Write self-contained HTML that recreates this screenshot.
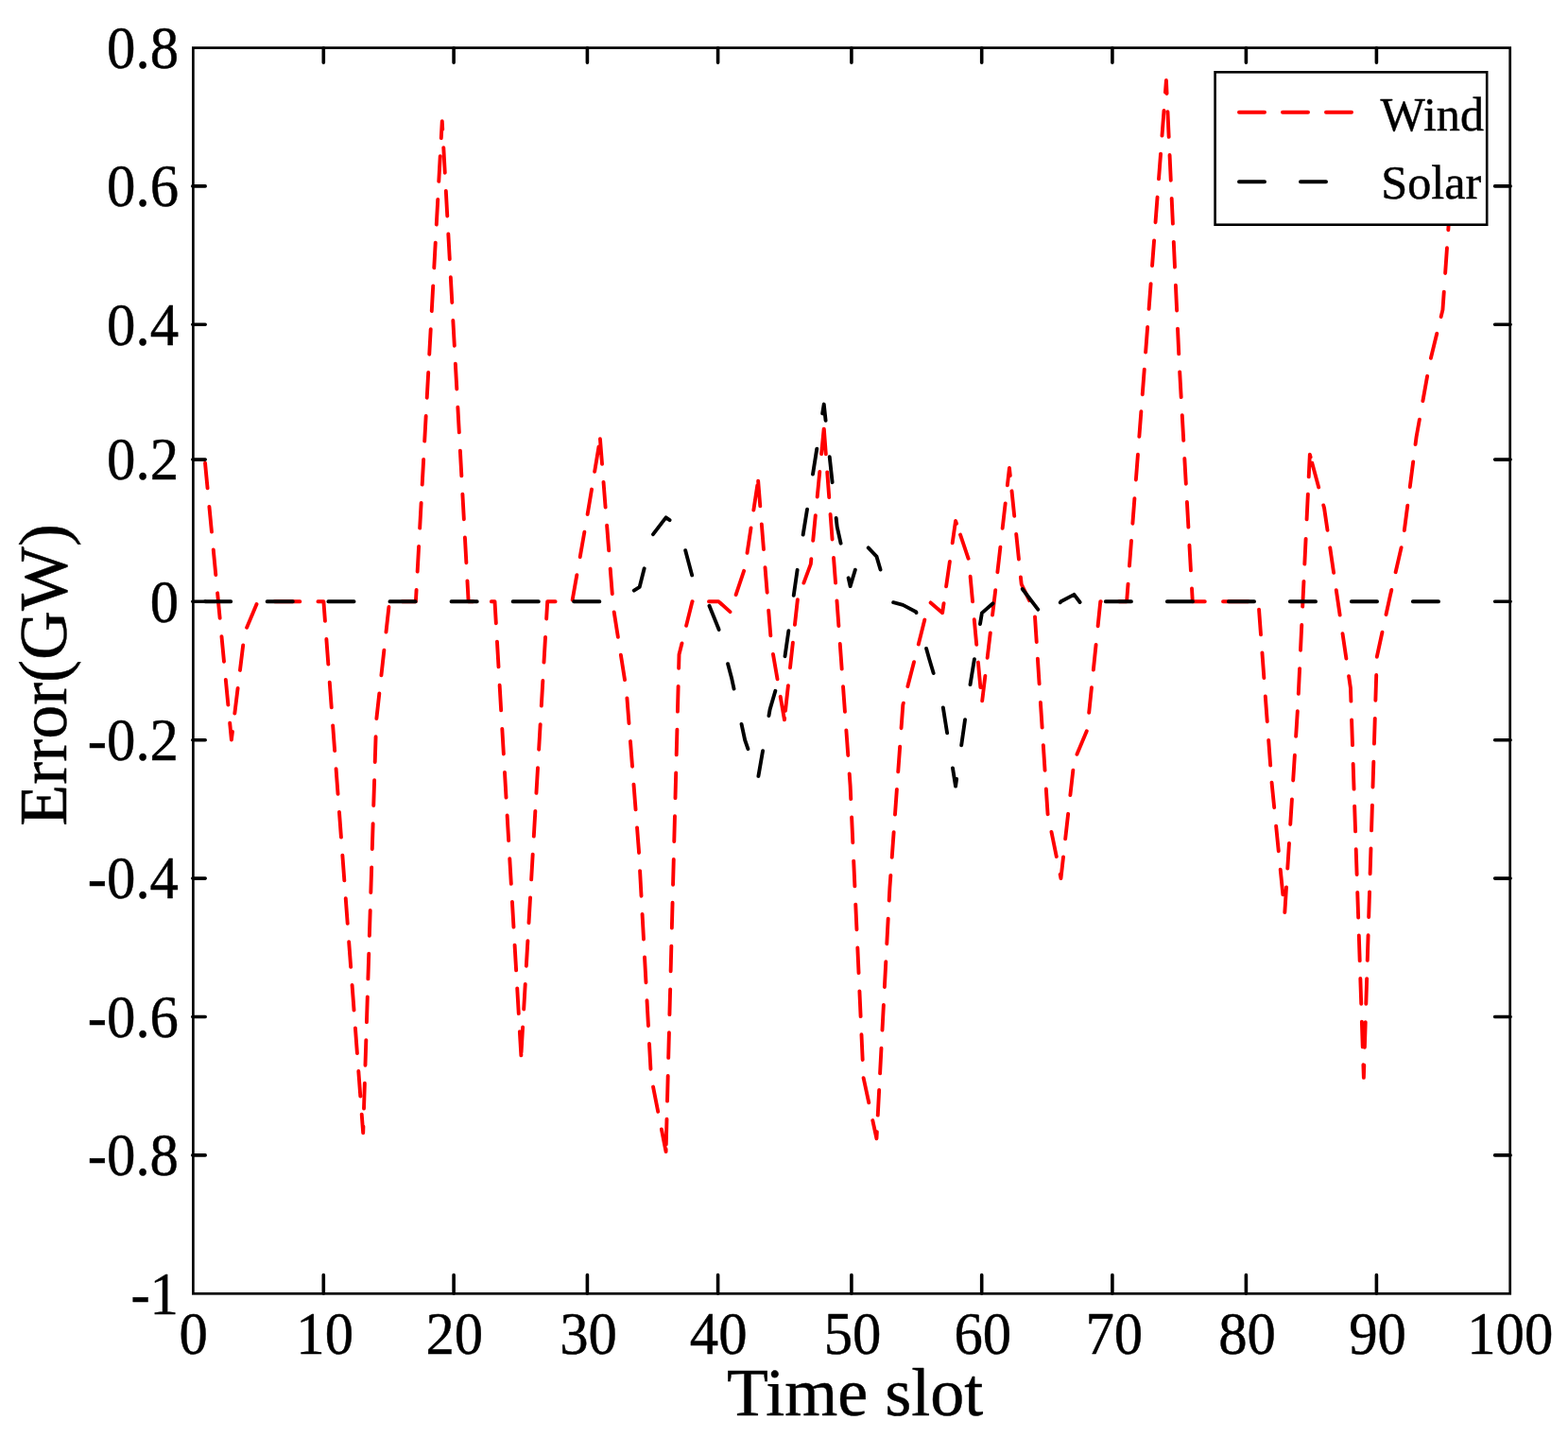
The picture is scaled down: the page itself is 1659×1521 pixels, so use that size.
<!DOCTYPE html>
<html lang="en">
<head>
<meta charset="utf-8">
<title>Error (GW) vs Time slot</title>
<style>
html,body{margin:0;padding:0;background:#fff;}
body{width:1659px;height:1521px;overflow:hidden;}
svg{display:block;}
text{font-family:"Liberation Serif","DejaVu Serif",serif;fill:#000;stroke:#000;stroke-width:0.45px;stroke-linejoin:round;}
.tick{font-size:62px;}
.lab{font-size:72px;}
.leg{font-size:51px;}
</style>
</head>
<body>
<svg width="1659" height="1521" viewBox="0 0 1659 1521" role="img" aria-label="Wind and solar forecast error (GW) per time slot">
<rect x="0" y="0" width="1659" height="1521" fill="#fff"/>
<g id="series">
<path d="M217.03 489.8L219.56 516.38M221.42 535.99L223.95 562.57M225.76 581.52L228.29 608.1M230.12 627.33L230.96 636.2L232.65 653.91M234.48 673.15L237 699.73M238.83 718.96L241.36 745.54M243.19 764.78L244.89 782.6L245.96 773.87M248.34 754.52L251.59 728.02M253.94 708.92L257.19 682.42M261.13 663.68L271.53 639.09M290.65 636.2L300.61 636.2L314.54 636.2L317.35 636.2M336.45 636.2L342.4 636.2L343.94 656.89M345.36 676L347.34 702.63M348.76 721.73L350.74 748.36M352.16 767.47L354.14 794.09M355.56 813.2L356.33 823.59L357.54 839.83M358.96 858.94L360.94 885.56M362.36 904.67L364.34 931.3M365.75 950.25L367.72 976.88M369.17 996.28L370.26 1010.98L371.15 1022.91M372.56 1041.86L374.53 1068.49M375.94 1087.45L377.92 1114.08M379.33 1133.04L381.31 1159.66M382.72 1178.62L384.19 1198.38L384.41 1191.49M385.02 1172.49L385.87 1145.8M386.48 1126.8L387.33 1100.11M387.94 1081.11L388.79 1054.42M389.4 1035.42L390.25 1008.74M390.86 989.73L391.71 963.05M392.32 944.05L393.17 917.36M393.79 897.97L394.64 871.28M395.26 851.97L396.11 825.28M396.73 805.97L397.58 779.28M398.39 759.98L401.32 733.44M403.44 714.23L406.37 687.69M408.49 668.49L411.42 641.95M425.59 636.2L425.98 636.2L439.91 636.2L440.59 623.84M441.65 604.54L443.11 577.88M444.17 558.59L445.63 531.93M446.69 512.63L448.15 485.97M449.21 466.67L450.67 440.01M451.73 420.72L453.19 394.06M454.25 374.76L455.71 348.1M456.76 329.02L458.22 302.36M459.26 283.28L460.73 256.62M461.77 237.53L463.24 210.87M464.28 191.79L465.74 165.13M466.79 146.04L467.77 128.19L468.25 137M469.3 156.08L470.76 182.74M471.81 201.83L473.27 228.49M474.32 247.57L475.78 274.23M476.83 293.32L478.29 319.98M479.33 339.06L480.8 365.72M481.84 384.82L483.31 411.48M484.36 430.74L485.82 457.4M486.88 476.67L488.34 503.33M489.4 522.6L490.86 549.26M491.92 568.53L493.38 595.19M494.44 614.46L495.63 636.2L500.55 636.2M519.85 636.2L523.49 636.2L524.83 659.22M525.95 678.66L527.5 705.31M528.63 724.75L530.17 751.4M531.3 770.84L532.85 797.49M533.98 816.93L535.52 843.59M536.62 862.52L537.42 876.3L538.17 889.17M539.27 908.24L540.82 934.9M541.93 953.96L543.47 980.62M544.58 999.69L546.13 1026.34M547.23 1045.41L548.78 1072.06M549.88 1091.13L551.35 1116.39L551.43 1115M551.53 1113.21L553.08 1086.55M554.19 1067.49L555.73 1040.83M556.84 1021.76L558.39 995.11M559.49 976.04L561.04 949.38M562.15 930.32L563.69 903.66M564.8 884.59L565.28 876.3L566.35 857.94M567.45 838.83L569 812.18M570.13 792.74L571.67 766.09M572.8 746.65L574.35 719.99M575.48 700.55L577.02 673.9M578.15 654.46L579.21 636.2L587.62 636.2M605.67 634.5L610.32 608.21M613.71 589.04L618.35 562.75M621.64 543.93L626.02 517.59M629.15 498.75L633.54 472.41M634.95 464.28L637.03 490.9M638.52 509.94L640.61 536.56M642.11 555.76L644.19 582.38M645.69 601.58L647.78 628.2M649.7 647.35L653.86 673.73M656.87 692.75L661.03 719.12M663.42 738.41L665.48 765.03M666.96 784.07L669.02 810.69M670.5 829.74L672.56 856.36M674.04 875.4L675.92 899.72L676.04 902.02M677.08 921.1L678.52 947.76M679.56 966.83L681 993.49M682.03 1012.56L683.48 1039.22M684.51 1058.29L685.96 1084.95M686.99 1104.03L688.43 1130.69M691.06 1149.56L696.22 1175.76M699.92 1194.5L704.58 1218.14L704.65 1215.54M704.78 1210.43L705.49 1183.74M706 1164.65L706.7 1137.96M707.21 1118.87L707.92 1092.18M708.42 1073.08L709.13 1046.39M709.64 1027.3L710.34 1000.61M710.85 981.52L711.56 954.82M712.06 935.73L712.77 909.04M713.27 889.95L713.98 863.26M714.49 844.16L715.19 817.47M715.7 798.38L716.41 771.69M716.91 752.6L717.62 725.9M718.13 706.77L718.51 692.34L721.46 680.44M726.07 661.87L732.44 636.2L732.7 636.2M749.98 636.2L760.3 636.2L772.49 647.14M778.6 629.1L787.1 603.79M790.53 584.89L794.5 558.49M797.35 539.58L801.33 513.18M802.15 508.78L804.29 535.4M805.83 554.44L807.97 581.05M809.51 600.09L811.66 626.7M813.19 645.74L815.34 672.35M817.95 691.93L822.5 718.24M825.71 736.81L829.95 761.37L830.14 759.6M831 751.75L833.9 725.21M835.98 706.25L838.88 679.71M840.95 660.75L843.86 634.21M850.37 616.61L857.81 596.67L858.33 591.28M860.22 571.78L862.79 545.21M864.7 525.56L867.27 498.99M869.09 480.19L871.66 453.62M871.81 453.76L873.81 480.38M875.24 499.43L877.24 526.05M878.57 543.88L880.57 570.5M882.04 590.03L884.04 616.65M885.45 635.49L885.67 638.4L887.39 662.12M888.75 680.95L890.68 707.58M892.03 726.26L893.95 752.89M895.36 772.34L897.29 798.97M898.7 818.41L899.6 830.91L900.24 845.07M901.12 864.54L902.32 891.22M903.2 910.69L904.4 937.37M905.27 956.59L906.47 983.26M907.34 1002.49L908.54 1029.16M909.41 1048.38L910.61 1075.06M911.48 1094.28L912.68 1120.95M913.61 1140.17L919.25 1166.27M923.32 1185.08L927.46 1204.23L927.83 1197.14M928.76 1179.59L930.16 1152.93M931.08 1135.38L932.48 1108.72M933.48 1089.67L934.88 1063.01M935.89 1043.96L937.29 1017.29M938.29 998.24L939.69 971.58M940.69 952.53L941.39 939.25L942.35 925.88M943.72 906.85L945.64 880.22M946.98 861.61L948.89 834.98M950.23 816.37L952.15 789.74M953.55 770.21L955.32 745.63L955.83 743.64M960.37 725.99L967.02 700.14M971.79 681.41L978.31 655.52M984.61 637.43L997.11 648.2L998.56 638.11M1001.1 620.34L1004.89 593.91M1007.7 574.27L1011.04 550.92L1012.04 553.87M1015.99 565.48L1024.58 590.76M1026.61 609.78L1029.05 636.37M1030.78 655.31L1033.22 681.89M1034.93 700.57L1037.37 727.16M1039.19 741.39L1042.36 714.87M1044.64 695.86L1047.81 669.35M1050.05 650.61L1052.83 627.42L1053.21 624.1M1055.37 605.17L1058.4 578.64M1060.65 558.9L1063.68 532.38M1065.86 513.32L1067.96 494.92L1068.8 503.07M1070.49 519.32L1073.23 545.88M1075.2 564.9L1077.95 591.46M1079.91 610.38L1080.69 617.9L1089.09 635.11M1095.01 652.44L1096.74 679.09M1097.88 696.64L1099.61 723.29M1100.89 742.94L1102.62 769.58M1103.83 788.21L1105.56 814.85M1106.84 834.52L1108.55 860.92L1108.6 861.16M1112.45 879.96L1117.8 906.12M1121.66 925.01L1122.48 929L1125.01 906.52M1127.16 887.36L1130.15 860.83M1132.36 841.14L1135.35 814.61M1139.47 797.84L1149.79 773.21M1152.2 753.75L1154.93 727.19M1156.85 708.51L1159.57 681.95M1161.6 662.22L1164.27 636.2L1164.81 636.2M1184 636.2L1192.13 636.2L1193.53 617.68M1194.98 598.54L1197 571.92M1198.38 553.74L1200.4 527.11M1201.89 507.44L1203.91 480.81M1205.34 461.91L1206.06 452.47L1207.36 435.28M1208.73 417.25L1210.75 390.62M1212.12 372.58L1214.14 345.96M1215.59 326.83L1217.6 300.21M1219.06 281.01L1219.99 268.74L1221.08 254.39M1222.53 235.19L1224.55 208.57M1226.01 189.37L1228.03 162.75M1229.48 143.55L1231.5 116.93M1232.96 97.73L1233.92 85L1234.56 98.93M1235.45 118.16L1236.68 144.83M1237.56 164.06L1238.79 190.73M1239.68 209.96L1240.91 236.63M1241.79 255.86L1243.02 282.54M1243.91 301.77L1245.14 328.44M1246.02 347.67L1247.25 374.34M1248.19 393.39L1249.68 420.05M1250.76 439.23L1252.25 465.88M1253.32 485.06L1254.81 511.72M1255.89 530.89L1257.38 557.55M1258.45 576.72L1259.94 603.38M1261.02 622.55L1261.78 636.2L1274.81 636.2M1294.02 636.2L1303.57 636.2L1317.5 636.2L1320.72 636.2M1332.05 644.67L1334.01 671.3M1335.42 690.45L1337.37 717.08M1338.8 736.56L1340.76 763.19M1342.21 782.91L1344.17 809.54M1345.54 827.6L1348.19 854.17M1350.13 873.66L1352.78 900.23M1354.72 919.7L1357.36 946.27M1359.32 965.09L1361.01 938.44M1362.28 918.54L1363.97 891.89M1365.23 871.98L1366.92 845.34M1368.18 825.43L1369.87 798.79M1371.13 778.88L1372.82 752.24M1373.8 733.87L1375.07 707.2M1375.99 687.74L1377.26 661.07M1378.19 641.6L1379.46 614.93M1380.33 596.62L1381.6 569.95M1382.58 549.3L1383.85 522.63M1384.72 504.33L1385.85 480.65L1386.63 483.54M1388.27 489.68L1395.2 515.46M1400.28 534.41L1401.08 537.38L1404.5 560.76M1407.22 579.32L1411.09 605.74M1413.78 624.13L1415.01 632.54L1417.65 650.54M1420.52 670.16L1424.38 696.58M1427.1 715.1L1428.94 727.7L1429.41 741.66M1430.08 761.45L1430.98 788.14M1431.65 807.93L1432.55 834.62M1433.16 852.65L1434.07 879.34M1434.7 898.25L1435.61 924.94M1436.25 943.85L1437.15 970.54M1437.79 989.45L1438.69 1016.14M1439.33 1035.06L1440.23 1061.74M1440.87 1080.66L1441.77 1107.34M1442.41 1126.26L1442.87 1139.82L1443.28 1126.69M1443.87 1107.77L1444.71 1081.08M1445.31 1061.77L1446.15 1035.08M1446.75 1015.9L1447.58 989.22M1448.18 970.04L1449.02 943.35M1449.62 924.18L1450.45 897.49M1451.05 878.32L1451.89 851.63M1452.49 832.45L1453.33 805.77M1453.93 786.59L1454.76 759.9M1455.36 740.73L1456.2 714.04M1456.8 694.86L1456.8 694.76L1462.44 668.77M1466.51 650.02L1470.73 630.56L1472.26 623.95M1476.6 605.2L1482.61 579.18M1485.84 561.12L1489.25 534.63M1491.77 515.02L1495.18 488.54M1497.55 470.07L1498.59 461.98L1501.87 443.73M1505.39 424.08L1510.11 397.8M1513.9 378.77L1520.27 352.84M1524.63 335.09L1526.45 327.66L1527.77 308.65M1529.13 288.94L1530.97 262.31M1532.29 243.25L1534.13 216.62M1535.45 197.56L1537.3 170.93M1538.61 151.87L1540.38 126.36" fill="none" stroke="#f00" stroke-width="3.9" stroke-linecap="round" stroke-linejoin="round"/>
<path d="M217.03 636.2L230.96 636.2L244.23 636.2M282.65 636.2L286.68 636.2L300.61 636.2L309.85 636.2M347.35 636.2L356.33 636.2L370.26 636.2L374.55 636.2M412.45 636.2L425.98 636.2L439.65 636.2M477.55 636.2L481.7 636.2L495.63 636.2L504.75 636.2M542.65 636.2L551.35 636.2L565.28 636.2L569.85 636.2M607.15 636.2L621 636.2L634.35 636.2M670.77 624.58L676.72 620.83L681.65 601.27M691 565.1L704.58 547.34L708.57 550.08M725.2 582.17L732.17 608.46M750.48 640.77L760.3 664.97L760.58 666.01M770.11 702.2L774.23 717.82L776.55 728.63M784.54 765.86L788.16 782.75L791.42 792.13M802.42 820.94L807.06 794.14M813.47 757.03L814.62 750.39L820.36 730.75M830.49 694.19L834.36 667.26M839.75 629.77L843.62 602.84M849.65 565.61L854.01 538.77M860.01 501.53L864.27 474.66M870.18 437.41L871.74 427.58L873.58 444.73M877.71 483.13L880.62 510.17M884.68 547.98L885.67 557.14L889.56 574.7M897.65 611.28L899.6 620.1L904.85 602.71M918.73 579.44L927.46 588.62L931.54 602.57M945.15 637.19L955.32 639.86L969.25 647.18L969.51 648.09M980.09 685.91L983.18 696.96L987.66 712.03M997.84 748.43L1002.1 775.3M1007.98 812.36L1011.04 831.64L1012.12 824.04M1017.21 788.23L1021.03 761.3M1026.51 724.12L1030.9 697.28M1037 660L1038.9 648.35L1050.5 638.23M1081.75 622.96L1094.62 639.86L1098.23 644.6M1121.81 637.25L1122.48 636.2L1136.41 628.88L1142.6 637.01M1169.76 636.2L1178.2 636.2L1192.13 636.2L1196.96 636.2M1234.85 636.2L1247.85 636.2L1261.78 636.2L1262.05 636.2M1299.85 636.2L1303.57 636.2L1317.5 636.2L1327.05 636.2M1364.85 636.2L1373.22 636.2L1387.15 636.2L1392.05 636.2M1429.85 636.2L1442.87 636.2L1456.8 636.2L1457.05 636.2M1494.85 636.2L1498.59 636.2L1512.52 636.2L1522.05 636.2" fill="none" stroke="#000" stroke-width="3.9" stroke-linecap="round" stroke-linejoin="round"/>
</g>
<g id="axes" stroke="#000" fill="none">
<rect x="204.35" y="50.6" width="1393.35" height="1317.7" stroke-width="2.7"/>
<path d="M342.3 1368.1V1348.5M342.3 50.7V66.3M480.1 1368.1V1348.5M480.1 50.7V66.3M621.4 1368.1V1348.5M621.4 50.7V66.3M759.6 1368.1V1348.5M759.6 50.7V66.3M900.9 1368.1V1348.5M900.9 50.7V66.3M1038.7 1368.1V1348.5M1038.7 50.7V66.3M1176.9 1368.1V1348.5M1176.9 50.7V66.3M1318.4 1368.1V1348.5M1318.4 50.7V66.3M1456.4 1368.1V1348.5M1456.4 50.7V66.3M203.8 196.9H217.2M1598.1 196.9H1581.6M203.8 343.3H217.2M1598.1 343.3H1581.6M203.8 486.1H217.2M1598.1 486.1H1581.6M203.8 636.2H217.2M1598.1 636.2H1581.6M203.8 782.7H217.2M1598.1 782.7H1581.6M203.8 929.1H217.2M1598.1 929.1H1581.6M203.8 1075.5H217.2M1598.1 1075.5H1581.6M203.8 1221.9H217.2M1598.1 1221.9H1581.6" stroke-width="3.6" stroke-linecap="round"/>
</g>
<g id="xticklabels" class="tick" text-anchor="middle">
<text transform="translate(204.6 1432) scale(0.98 1.03)">0</text>
<text transform="translate(343.7 1432) scale(0.98 1.03)">10</text>
<text transform="translate(480.8 1432) scale(0.98 1.03)">20</text>
<text transform="translate(622.5 1432) scale(0.98 1.03)">30</text>
<text transform="translate(760.2 1432) scale(0.98 1.03)">40</text>
<text transform="translate(902 1432) scale(0.98 1.03)">50</text>
<text transform="translate(1039.8 1432) scale(0.98 1.03)">60</text>
<text transform="translate(1178.8 1432) scale(0.98 1.03)">70</text>
<text transform="translate(1319.5 1432) scale(0.98 1.03)">80</text>
<text transform="translate(1457.5 1432) scale(0.98 1.03)">90</text>
<text transform="translate(1597.7 1432) scale(0.98 1.03)">100</text>
</g>
<g id="yticklabels" class="tick" text-anchor="end">
<text transform="translate(189 72) scale(0.98 1.03)">0.8</text>
<text transform="translate(189 218.4) scale(0.98 1.03)">0.6</text>
<text transform="translate(189 364.8) scale(0.98 1.03)">0.4</text>
<text transform="translate(189 507.4) scale(0.98 1.03)">0.2</text>
<text transform="translate(189 657.6) scale(0.98 1.03)">0</text>
<text transform="translate(189 804) scale(0.98 1.03)">-0.2</text>
<text transform="translate(189 950.4) scale(0.98 1.03)">-0.4</text>
<text transform="translate(189 1096.8) scale(0.98 1.03)">-0.6</text>
<text transform="translate(189 1243.2) scale(0.98 1.03)">-0.8</text>
<text transform="translate(189 1389.6) scale(0.98 1.03)">-1</text>
</g>
<text class="lab" text-anchor="middle" transform="translate(904.6 1497.2) scale(1 1)">Time slot</text>
<text class="lab" text-anchor="middle" transform="translate(70 713.9) rotate(-90) scale(1 1)">Error(GW)</text>
<g id="legend">
<rect x="1285.6" y="76.3" width="287.6" height="161.4" fill="#fff" stroke="#000" stroke-width="2.6"/>
<path d="M1311 118.8H1338M1357 118.8H1384M1403 118.8H1430" stroke="#f00" stroke-width="4.0" stroke-linecap="round" fill="none"/>
<path d="M1311 192.3H1338M1376 192.3H1403" stroke="#000" stroke-width="4.0" stroke-linecap="round" fill="none"/>
<text class="leg" transform="translate(1460.5 137.6) scale(0.985 0.99)">Wind</text>
<text class="leg" transform="translate(1461.2 210.4) scale(0.985 0.99)">Solar</text>
</g>
</svg>
</body>
</html>
